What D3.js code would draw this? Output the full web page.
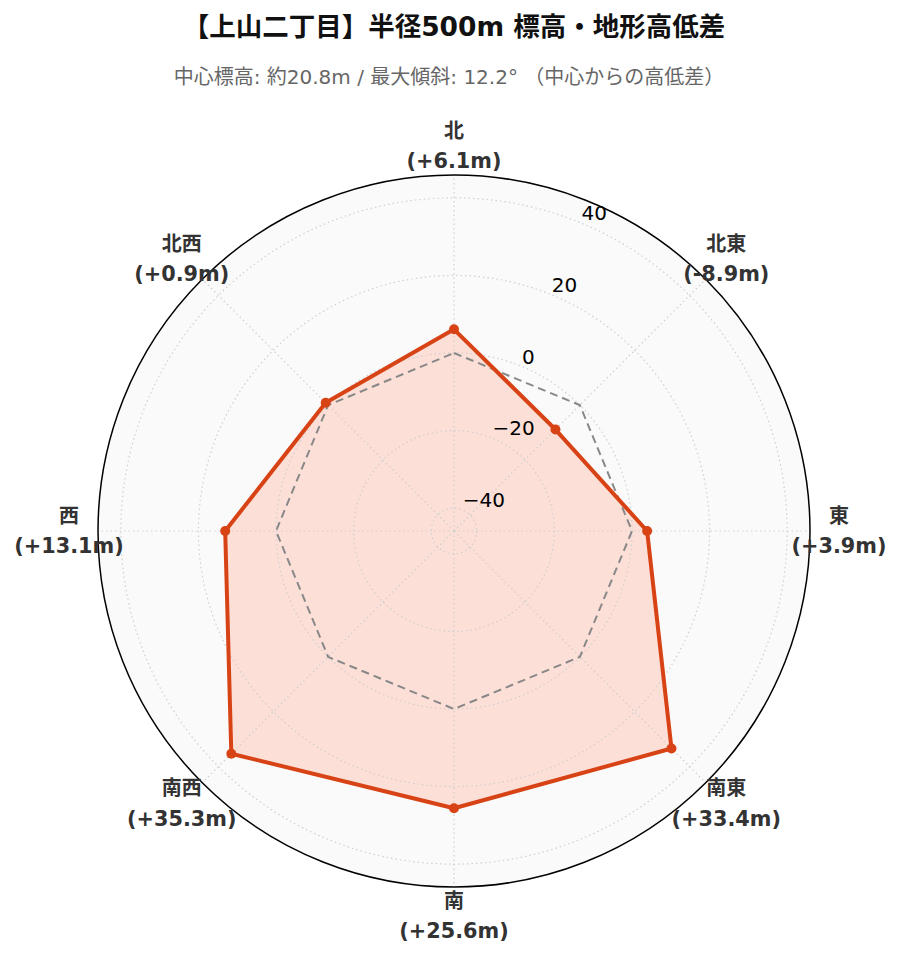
<!DOCTYPE html>
<html><head><meta charset="utf-8">
<script src="https://cdn.jsdelivr.net/npm/d3@7"></script>
<style>
html,body{margin:0;padding:0;background:#fff;}
text{font-family:"DejaVu Sans","Noto Sans CJK JP",sans-serif;}
</style>
</head><body>
<svg id="chart" width="900" height="962"></svg>
<script>
const directions = ["北","北東","東","南東","南","南西","西","北西"];
const diffs = [6.1, -8.9, 3.9, 33.4, 25.6, 35.3, 13.1, 0.9];
const diffLabels = ["+6.1m","-8.9m","+3.9m","+33.4m","+25.6m","+35.3m","+13.1m","+0.9m"];
const zeroRef = [0,0,0,0,0,0,0,0];
const radialTicks = [-40,-20,0,20,40];
const rMaxVal = 45.89;
const titleText = "【上山二丁目】半径500m 標高・地形高低差";
const subtitleText = "中心標高: 約20.8m / 最大傾斜: 12.2° （中心からの高低差）";

const svg = d3.select("#chart");
const cx = 454, cy = 531, R = 356;
const r = d3.scaleLinear().domain([-rMaxVal, rMaxVal]).range([0, R]);
const ang = d3.scaleLinear().domain([0, directions.length]).range([0, 2*Math.PI]);
const g = svg.append("g").attr("transform", `translate(${cx},${cy})`);

const radial = d3.lineRadial().angle((d,i)=>ang(i)).radius(d=>r(d)).curve(d3.curveLinearClosed);

// background
g.append("circle").attr("r", R).attr("fill", "#fafafa");

// data fill (below grid)
g.append("path").datum(diffs).attr("d", radial)
  .attr("fill","#fcdfd7").attr("stroke","none");

// circular gridlines
g.selectAll("circle.grid").data(radialTicks).join("circle")
  .attr("class","grid").attr("r", d => r(d))
  .attr("fill","none").attr("stroke","#cfcfcf").attr("stroke-width",1.2)
  .attr("stroke-dasharray","1.5,3");

// spokes
g.selectAll("line.spoke").data(directions).join("line")
  .attr("x1",0).attr("y1",0)
  .attr("x2",(d,i)=>R*Math.sin(ang(i))).attr("y2",(d,i)=>-R*Math.cos(ang(i)))
  .attr("stroke","#cfcfcf").attr("stroke-width",1.2).attr("stroke-dasharray","1.5,3");

// zero reference
g.append("path").datum(zeroRef).attr("d", radial)
  .attr("fill","none").attr("stroke","#888").attr("stroke-width",2)
  .attr("stroke-dasharray","8,5");

// data line
g.append("path").datum(diffs).attr("d", radial)
  .attr("fill","none").attr("stroke","#d84315").attr("stroke-width",4)
  .attr("stroke-linejoin","round");
g.selectAll("circle.pt").data(diffs).join("circle")
  .attr("class","pt")
  .attr("cx",(d,i)=>r(d)*Math.sin(ang(i)))
  .attr("cy",(d,i)=>-r(d)*Math.cos(ang(i)))
  .attr("r",5).attr("fill","#d84315");

// outer frame
g.append("circle").attr("r", R).attr("fill","none").attr("stroke","#000").attr("stroke-width",1.5);

// radial tick labels at 22.5°
const la = 22.5*Math.PI/180;
g.selectAll("text.rt").data(radialTicks).join("text")
  .attr("class","rt")
  .attr("x", d => r(d)*Math.sin(la))
  .attr("y", d => -r(d)*Math.cos(la) - 3)
  .attr("text-anchor","start")
  .attr("font-size",20).attr("fill","#000")
  .text(d => d < 0 ? "\u2212" + Math.abs(d) : String(d));

// direction labels
const LR = 385;
const lab = g.selectAll("g.lab").data(directions).join("g").attr("class","lab")
  .attr("transform",(d,i)=>`translate(${LR*Math.sin(ang(i))},${-LR*Math.cos(ang(i))})`);
lab.append("text").attr("y",-15).attr("dy","0.35em").attr("text-anchor","middle")
  .attr("font-size",20).attr("font-weight","bold").attr("fill","#333").text(d=>d);
lab.append("text").attr("y",15).attr("dy","0.35em").attr("text-anchor","middle")
  .attr("font-size",20.8).attr("font-weight","bold").attr("fill","#333")
  .text((d,i)=>`(${diffLabels[i]})`);

// titles
svg.append("text").attr("x",454).attr("y",27).attr("dy","0.35em").attr("text-anchor","middle")
  .attr("font-size",26.5).attr("font-weight","bold").attr("fill","#111").text(titleText);
svg.append("text").attr("x",449).attr("y",77).attr("dy","0.35em").attr("text-anchor","middle")
  .attr("font-size",20).attr("fill","#666").text(subtitleText);
</script>
</body></html>
